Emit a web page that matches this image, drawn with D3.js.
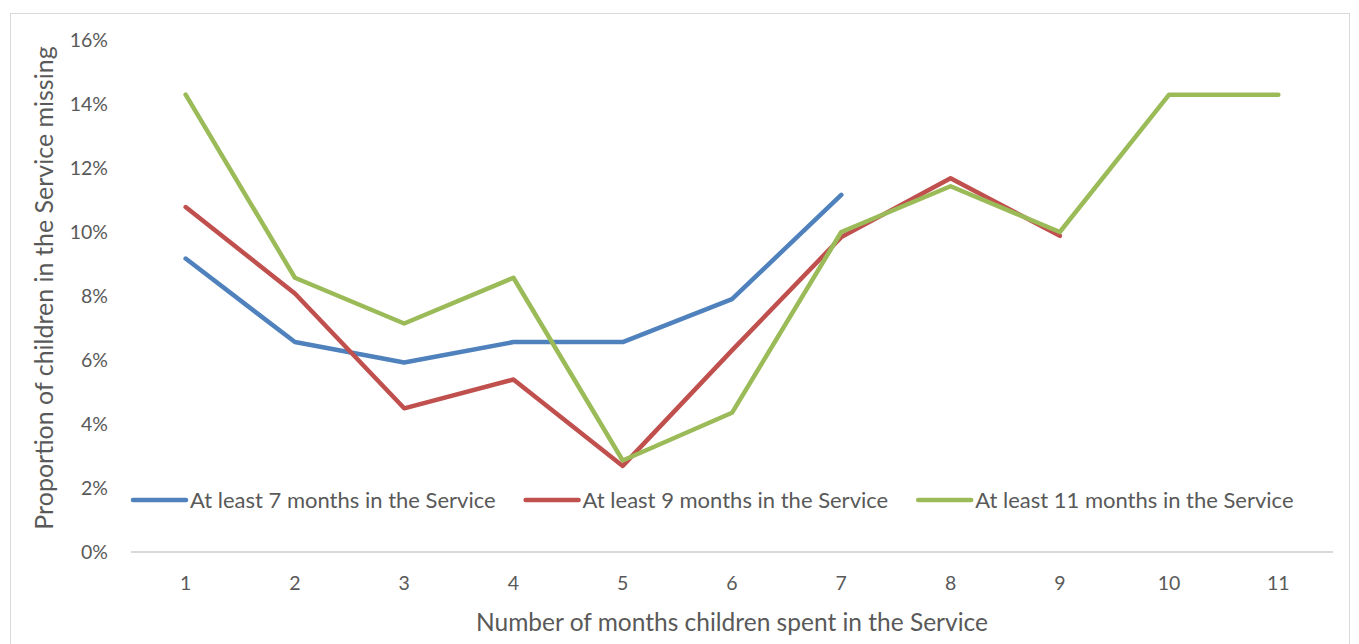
<!DOCTYPE html>
<html>
<head>
<meta charset="utf-8">
<script src="https://cdn.jsdelivr.net/npm/d3@7"></script>
<style>
  html, body { margin: 0; padding: 0; background: #fff; }
  svg { display: block; }
  text { font-family: Lato, "Open Sans", sans-serif; fill: #595959; }
</style>
</head>
<body>
<svg id="chart" width="1359" height="644"></svg>
<script>
// Months spent in the Service (x categories)
const months = ["1", "2", "3", "4", "5", "6", "7", "8", "9", "10", "11"];

// Proportion of children missing (%), one array per group
const atLeast7 = [9.17, 6.56, 5.92, 6.56, 6.56, 7.90, 11.16];
const atLeast9 = [10.78, 8.08, 4.49, 5.39, 2.69, 6.30, 9.84, 11.68, 9.88];
const atLeast11 = [14.29, 8.57, 7.14, 8.57, 2.86, 4.35, 10.00, 11.43, 10.00, 14.29, 14.29];

const seriesNames = [
  "At least 7 months in the Service",
  "At least 9 months in the Service",
  "At least 11 months in the Service"
];
const seriesColors = ["#4f81bd", "#c0504d", "#9bbb59"];

const yTicks = [0, 2, 4, 6, 8, 10, 12, 14, 16];

const series = [atLeast7, atLeast9, atLeast11].map((vals, i) => ({
  name: seriesNames[i],
  color: seriesColors[i],
  points: vals.map((v, j) => ({ month: months[j], value: v }))
}));

const svg = d3.select("#chart");
const plot = { left: 131, right: 1333, top: 40, bottom: 552 };

// Outer chart frame
svg.append("rect")
  .attr("x", 10.5).attr("y", 13.5)
  .attr("width", 1339).attr("height", 640)
  .attr("fill", "#fff").attr("stroke", "#d9d9d9").attr("stroke-width", 1);

const x = d3.scaleBand().domain(months).range([plot.left, plot.right]).padding(0);
const y = d3.scaleLinear().domain([0, 16]).range([plot.bottom, plot.top]);
const cx = m => x(m) + x.bandwidth() / 2;

// Y axis labels (no axis line)
const yAxis = d3.axisLeft(y).tickValues(yTicks).tickFormat(d => d + "%").tickSize(0).tickPadding(0);
const yg = svg.append("g").attr("transform", `translate(108,0)`).call(yAxis);
yg.select(".domain").remove();
yg.selectAll("text").attr("font-size", 19.5).attr("dy", "0.35em")
  .style("font-family", "Lato, 'Open Sans', sans-serif").attr("fill", "#595959");

// X axis line and category labels
const xAxis = d3.axisBottom(x).tickSize(0).tickPadding(0);
const xg = svg.append("g").attr("transform", `translate(0,${plot.bottom})`).call(xAxis);
xg.select(".domain").attr("stroke", "#d9d9d9").attr("stroke-width", 2)
  .attr("d", `M${plot.left},0H${plot.right}`);
xg.selectAll("text").attr("font-size", 19.5).attr("y", 38).attr("dy", 0)
  .style("font-family", "Lato, 'Open Sans', sans-serif").attr("fill", "#595959");

// Series lines
const line = d3.line().x(d => cx(d.month)).y(d => y(d.value));
svg.append("g").selectAll("path")
  .data(series)
  .join("path")
  .attr("d", d => line(d.points))
  .attr("fill", "none")
  .attr("stroke", d => d.color)
  .attr("stroke-width", 4.5)
  .attr("stroke-linecap", "round")
  .attr("stroke-linejoin", "round");

// Legend inside the plot area
const legend = svg.append("g").attr("transform", "translate(0,500)");
let lx = 133;
series.forEach(s => {
  legend.append("line")
    .attr("x1", lx).attr("x2", lx + 53).attr("y1", 0).attr("y2", 0)
    .attr("stroke", s.color).attr("stroke-width", 4.5).attr("stroke-linecap", "round");
  const t = legend.append("text")
    .attr("x", lx + 57).attr("y", 0).attr("dy", "0.35em")
    .attr("font-size", 22).text(s.name);
  lx += 57 + t.node().getComputedTextLength() + 30;
});

// Axis titles
svg.append("text")
  .attr("x", (plot.left + plot.right) / 2).attr("y", 631)
  .attr("text-anchor", "middle").attr("font-size", 24.5)
  .text("Number of months children spent in the Service");

svg.append("text")
  .attr("transform", `translate(53,${(plot.top + plot.bottom) / 2 - 8}) rotate(-90)`)
  .attr("text-anchor", "middle").attr("font-size", 25)
  .text("Proportion of children in the Service missing");
</script>
</body>
</html>
